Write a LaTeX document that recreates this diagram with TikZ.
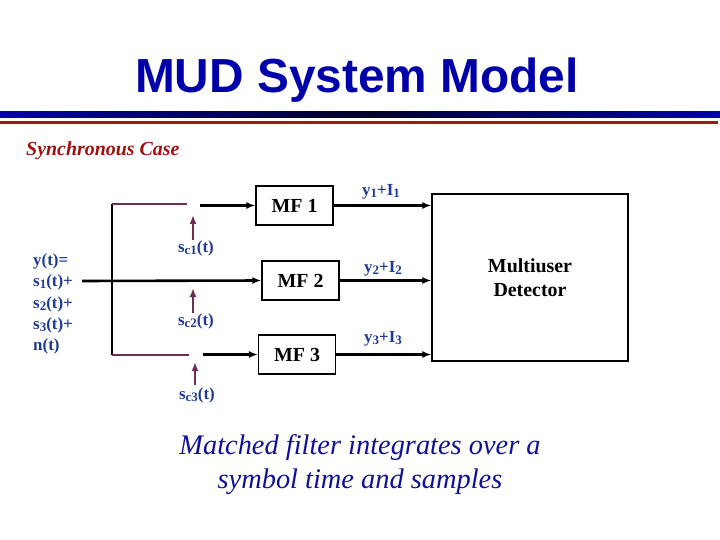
\documentclass[tikz,border=0pt]{standalone}
\usepackage{fontspec}
\setmainfont{Liberation Serif}
\newfontfamily\titlefont{Liberation Sans}
\usetikzlibrary{arrows.meta}
\definecolor{titleblue}{RGB}{0,0,170}
\definecolor{lineblue}{RGB}{0,0,175}
\definecolor{linedark}{RGB}{0,0,40}
\definecolor{linered}{RGB}{160,24,24}
\definecolor{casered}{RGB}{160,16,16}
\definecolor{lblblue}{RGB}{30,58,145}
\definecolor{wirepurple}{RGB}{110,45,85}
\definecolor{notecol}{RGB}{16,16,150}
\tikzset{
  mfbox/.style={draw, line width=1.3pt, minimum width=77bp, minimum height=39bp, inner sep=0pt,
    font=\fontsize{20}{22}\selectfont\bfseries},
  sig/.style={line width=2.6pt, -{Latex[length=9bp,width=7bp]}},
  purp/.style={wirepurple, line width=1.4pt},
  purparrow/.style={wirepurple, line width=2.4pt, -{Latex[length=9bp,width=7bp]}},
  lbl/.style={text=lblblue, font=\fontsize{17}{19}\selectfont\bfseries, inner sep=0pt},
  wire/.style={line width=1.5pt}
}
\newcommand{\subx}[1]{\raisebox{-0.25ex}{\fontsize{13}{13}\selectfont #1}}
\begin{document}
\begin{tikzpicture}[x=1bp,y=-1bp]
\useasboundingbox (0,0) rectangle (720,540);
% title
\node[text=titleblue, font=\titlefont\fontsize{48}{56}\selectfont\bfseries] (title) at (357,80) {MUD System Model};
\shade[left color=lineblue, right color=lineblue, middle color=linedark] (0,112) rectangle (720,118);
\fill[linered] (0,121) rectangle (718,124.5);
\node[anchor=west, text=casered, font=\fontsize{20}{22}\selectfont\bfseries\itshape, inner sep=0pt] (case) at (26,151) {Synchronous Case};
% blocks
\node[mfbox] (mf1) at (294.5,205.5) {MF 1};
\node[mfbox] (mf2) at (300.5,280.5) {MF 2};
\node[mfbox] (mf3) at (297,354.5) {MF 3};
\node[draw, line width=1.3pt, minimum width=196bp, minimum height=167bp, inner sep=0pt,
  align=center, font=\fontsize{20}{24}\selectfont\bfseries] (mud) at (530,277.5) {Multiuser\\Detector};
% input
\node[lbl, anchor=west, align=left, font=\fontsize{17}{21.5}\selectfont\bfseries] (ylbl) at (33,304)
  {y(t)=\\s\subx{1}(t)+\\s\subx{2}(t)+\\s\subx{3}(t)+\\n(t)};
\coordinate (in) at (82,281);
\coordinate (vt) at (112,204);
\coordinate (vb) at (112,355);
\coordinate (a1) at (187,204);
\coordinate (b1) at (200,205.5);
\coordinate (a3) at (189,355);
\coordinate (b3) at (203,354.5);
\draw[wire] (vt) -- (vb);
\draw[purp] (vt) -- (a1);
\draw[purp] (vb) -- (a3);
\draw[sig] (in) -- (mf2.west);
\draw[sig] (b1) -- (mf1.west);
\draw[sig] (b3) -- (mf3.west);
% spreading codes
\coordinate (c1s) at (193,240); \coordinate (c1e) at (193,215);
\coordinate (c2s) at (193,313); \coordinate (c2e) at (193,288);
\coordinate (c3s) at (195,385); \coordinate (c3e) at (195,362);
\draw[purparrow] (c1s) -- (c1e);
\draw[purparrow] (c2s) -- (c2e);
\draw[purparrow] (c3s) -- (c3e);
\node[lbl] (sc1) at (196,248) {s\subx{c1}(t)};
\node[lbl] (sc2) at (196,321) {s\subx{c2}(t)};
\node[lbl] (sc3) at (197,395) {s\subx{c3}(t)};
% outputs
\draw[sig] (mf1.east) -- (mf1.east -| mud.west);
\draw[sig] (mf2.east) -- (mf2.east -| mud.west);
\draw[sig] (mf3.east) -- (mf3.east -| mud.west);
\node[lbl] (o1) at (381,192) {y\subx{1}+I\subx{1}};
\node[lbl] (o2) at (383,269) {y\subx{2}+I\subx{2}};
\node[lbl] (o3) at (383,339) {y\subx{3}+I\subx{3}};
% note
\node[text=notecol, align=center, font=\fontsize{28.5}{34}\selectfont\itshape, inner sep=0pt] (note) at (360,465)
  {Matched filter integrates over a\\symbol time and samples};
\end{tikzpicture}
\end{document}
